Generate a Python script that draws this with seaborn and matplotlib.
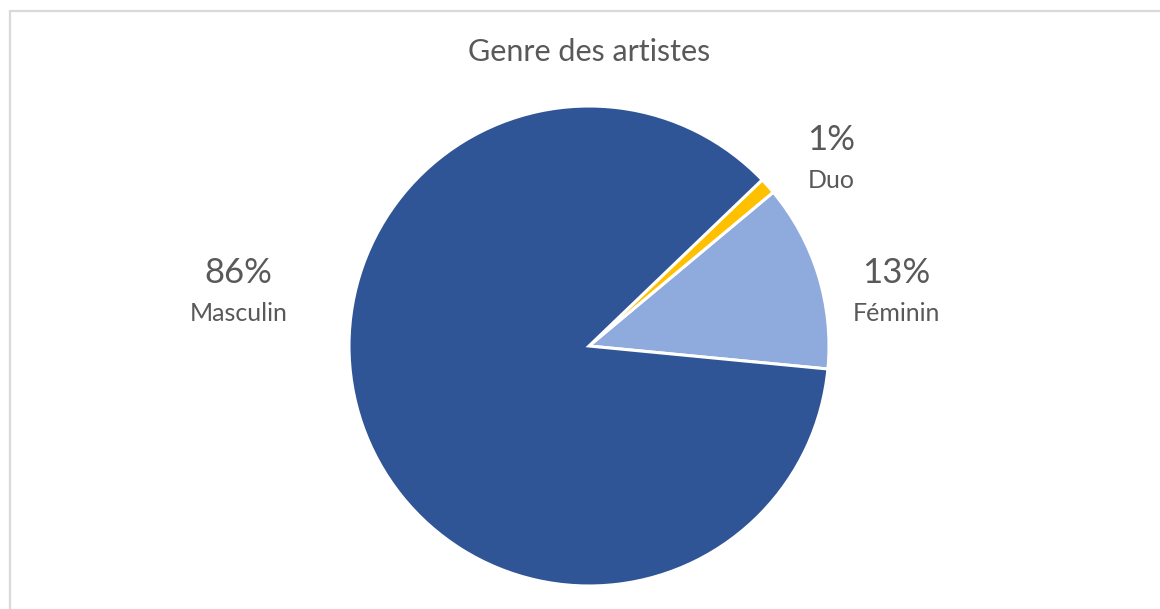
import numpy as np
import matplotlib
matplotlib.use("Agg")
import matplotlib.pyplot as plt
import seaborn as sns
from matplotlib.patches import Rectangle

# data
labels = ["Féminin", "Duo", "Masculin"]
values = [12.6, 1.1, 86.3]
colors = ["#8FAADC", "#FFC000", "#2F5597"]
title = "Genre des artistes"

sns.set_theme(style="white")
plt.rcParams['font.family'] = ['Lato', 'DejaVu Sans']

W, H = 1160, 609
cx, cy, R = 589, 346, 240  # pie centre / radius in pixels

fig = plt.figure(figsize=(W / 100, H / 100), dpi=100)
fig.patch.set_facecolor("white")
ax = fig.add_axes([0, 0, 1, 1])

# start at the Féminin/Masculin boundary, counter-clockwise
wedges, _ = ax.pie(values, colors=colors, startangle=-5.5, radius=1,
                   wedgeprops=dict(edgecolor="white", linewidth=2.2),
                   frame=True)
ax.set_xlim(-cx / R, (W - cx) / R)
ax.set_ylim((cy - H) / R, cy / R)
ax.set_aspect("auto")
ax.axis("off")

txt = "#595959"
# label anchor (x, y) in pie radius units
pos = {"Féminin": (1.28, 0.22), "Duo": (1.01, 0.775), "Masculin": (-1.46, 0.22)}
for lab, v in zip(labels, values):
    x, y = pos[lab]
    ax.text(x, y + 0.085, f"{round(v):.0f}%", ha="center", va="center",
            fontsize=25, color=txt)
    ax.text(x, y - 0.085, lab, ha="center", va="center", fontsize=18, color=txt)

ax.text(0, (cy - 52) / R, title, ha="center", va="center", fontsize=22, color=txt)

# chart frame
fig.patches.append(Rectangle((10 / W, -0.1), 1.2, 1 - 11 / H + 0.1,
                             transform=fig.transFigure, fill=False,
                             edgecolor="#D9D9D9", linewidth=1.6))

fig.savefig("out.png", dpi=100, facecolor="white")
